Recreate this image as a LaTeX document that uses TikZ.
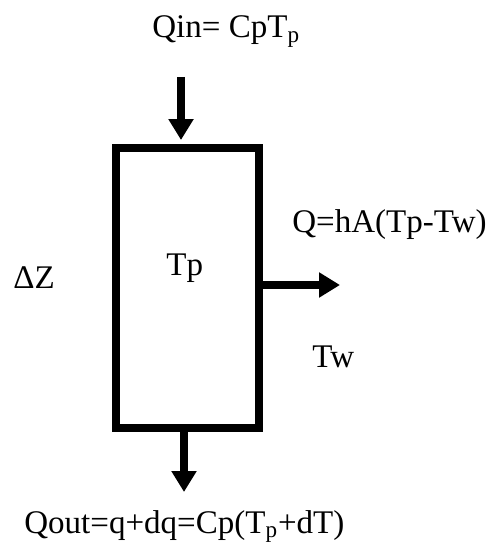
\documentclass[tikz,border=0pt]{standalone}
\usepackage{fontspec}
\setmainfont{Liberation Serif}
\usetikzlibrary{positioning, arrows.meta, calc}

\begin{document}
\begin{tikzpicture}[
  x=0.02cm, y=-0.02cm,
  wall/.style={
    draw, line width=0.16cm, minimum width=2.86cm,
    minimum height=5.6cm, inner sep=0
  },
  flow/.style={line width=0.16cm, -{Triangle[length=0.42cm, width=0.48cm]}},
  label/.style={font=\fontsize{18.8}{22}\selectfont, inner sep=0, anchor=base west}
]
\useasboundingbox (0,0) rectangle (488,546);

\node[wall] (pipe) at (187.5,288) {};

\node[label] (qin) at (152,38) {Qin= CpT\textsubscript{p}};
\node[label] (heat) at (292,233) {Q=hA(Tp-Tw)};
\node[label] (tp) at (166,276) {Tp};
\node[label] (dz) at (13,289) {ΔZ};
\node[label] (tw) at (312,367) {Tw};
\node[label] (qout) at (24,533) {Qout=q+dq=Cp(T\textsubscript{p}+dT)};

\coordinate (in) at (181,77);
\coordinate (out) at (184,492);
\coordinate (loss) at (340,285);

\draw[flow, shorten >=0.08cm] (in) -- (in |- pipe.north);
\draw[flow] (pipe.south -| out) -- (out);
\draw[flow] (pipe.east |- loss) -- (loss);

\end{tikzpicture}
\end{document}
